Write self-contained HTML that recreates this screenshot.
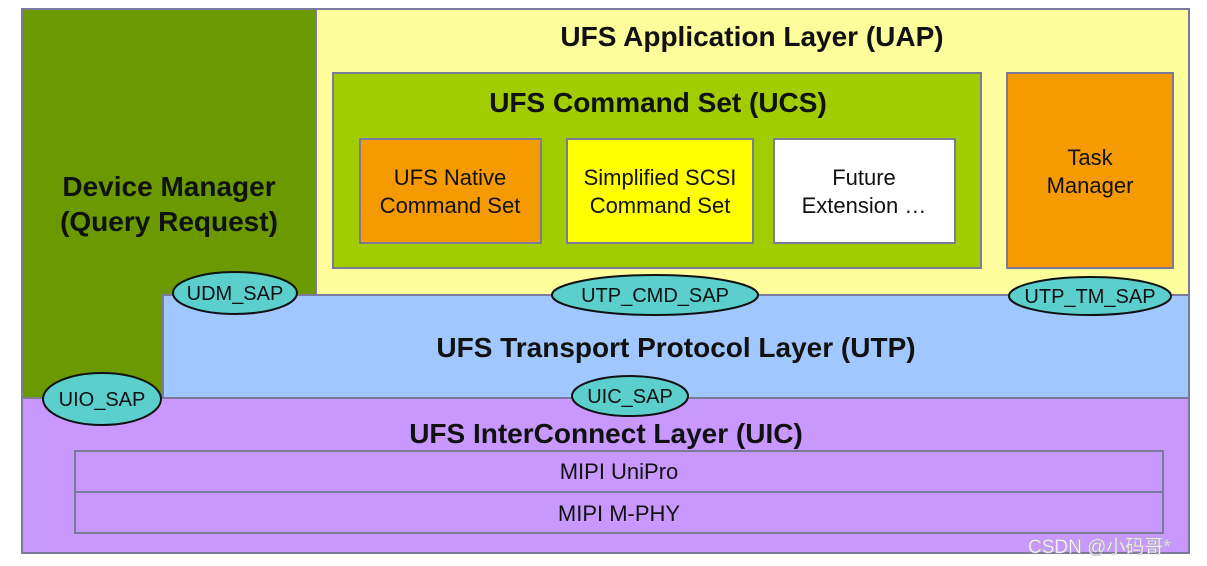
<!DOCTYPE html>
<html><head><meta charset="utf-8"><style>
html,body{margin:0;padding:0;background:#fff;}
svg{display:block;}
text{font-family:"Liberation Sans",Arial,sans-serif;fill:#111;}
.b{font-weight:bold;}
</style></head><body>
<svg width="1207" height="566" viewBox="0 0 1207 566" xmlns="http://www.w3.org/2000/svg">
<rect x="0" y="0" width="1207" height="566" fill="#fff"/>
<g stroke="#7a7a9a" stroke-width="2">
<rect x="316" y="9" width="873" height="287" fill="#fdfd9c"/>
<path d="M22 9 H316 V295 H163 V398 H22 Z" fill="#6a9a00"/>
<rect x="163" y="295" width="1026" height="103" fill="#a0c8fe"/>
<rect x="22" y="398" width="1167" height="155" fill="#c898fe"/>
<rect x="333" y="73" width="648" height="195" fill="#a0cc00"/>
<rect x="1007" y="73" width="166" height="195" fill="#f59a00"/>
<rect x="360" y="139" width="181" height="104" fill="#f59a00"/>
<rect x="567" y="139" width="186" height="104" fill="#ffff00"/>
<rect x="774" y="139" width="181" height="104" fill="#fff"/>
<rect x="75" y="451" width="1088" height="41" fill="#c898fe"/>
<rect x="75" y="492" width="1088" height="41" fill="#c898fe"/>
</g>
<text x="752" y="46" font-size="28" class="b" text-anchor="middle">UFS Application Layer (UAP)</text>
<text x="658" y="112" font-size="28" class="b" text-anchor="middle">UFS Command Set (UCS)</text>
<text x="169" y="196" font-size="28" class="b" text-anchor="middle">Device Manager</text>
<text x="169" y="231" font-size="28" class="b" text-anchor="middle">(Query Request)</text>
<text x="676" y="357" font-size="28" class="b" text-anchor="middle">UFS Transport  Protocol Layer (UTP)</text>
<text x="606" y="443" font-size="28" class="b" text-anchor="middle">UFS InterConnect Layer (UIC)</text>
<g font-size="22" text-anchor="middle">
<text x="450" y="185">UFS Native</text><text x="450" y="213">Command Set</text>
<text x="660" y="185">Simplified SCSI</text><text x="660" y="213">Command Set</text>
<text x="864" y="185">Future</text><text x="864" y="213">Extension …</text>
<text x="1090" y="165">Task</text><text x="1090" y="193">Manager</text>
<text x="619" y="479">MIPI UniPro</text>
<text x="619" y="521">MIPI M-PHY</text>
</g>
<g stroke="#111" stroke-width="2" fill="#5acfcc">
<ellipse cx="235" cy="293" rx="62" ry="21"/>
<ellipse cx="655" cy="295" rx="103" ry="20"/>
<ellipse cx="1090" cy="296" rx="81" ry="19"/>
<ellipse cx="102" cy="399" rx="59" ry="26"/>
<ellipse cx="630" cy="396" rx="58" ry="20"/>
</g>
<g font-size="20" text-anchor="middle">
<text x="235" y="300">UDM_SAP</text>
<text x="655" y="302">UTP_CMD_SAP</text>
<text x="1090" y="303">UTP_TM_SAP</text>
<text x="102" y="406">UIO_SAP</text>
<text x="630" y="403">UIC_SAP</text>
</g>
<text x="1028" y="553" font-size="19" style="fill:#ffffff;stroke:#bbb;stroke-width:0.6;font-family:'Liberation Sans','Noto Sans CJK SC',sans-serif">CSDN @小码哥*</text>
</svg>
</body></html>
